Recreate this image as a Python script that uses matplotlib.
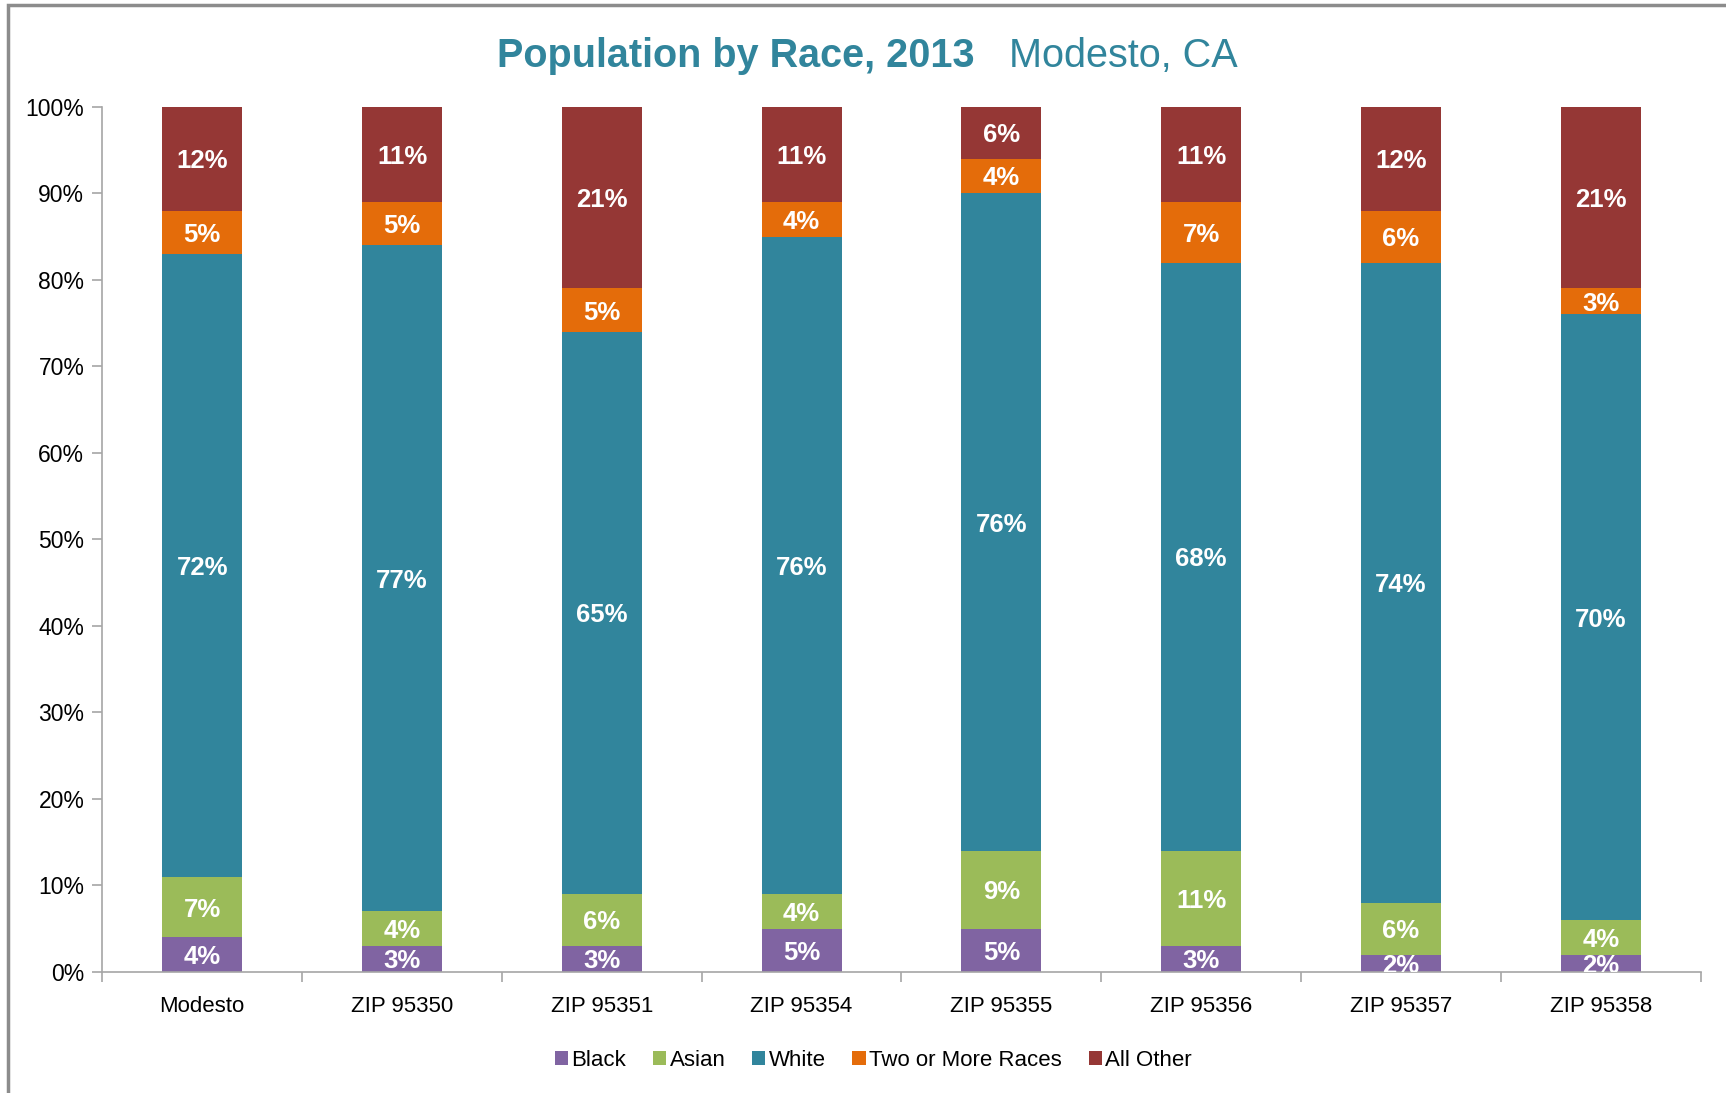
import matplotlib.pyplot as plt
import matplotlib.patches as mpatches
import numpy as np

# data (percent of population)
places = ['Modesto', 'ZIP 95350', 'ZIP 95351', 'ZIP 95354', 'ZIP 95355',
          'ZIP 95356', 'ZIP 95357', 'ZIP 95358']
black = [4, 3, 3, 5, 5, 3, 2, 2]
asian = [7, 4, 6, 4, 9, 11, 6, 4]
white = [72, 77, 65, 76, 76, 68, 74, 70]
two_or_more = [5, 5, 5, 4, 4, 7, 6, 3]
all_other = [12, 11, 21, 11, 6, 11, 12, 21]

series = [
    ('Black', black, '#8064A2'),
    ('Asian', asian, '#9BBB59'),
    ('White', white, '#31859C'),
    ('Two or More Races', two_or_more, '#E46C0A'),
    ('All Other', all_other, '#953735'),
]

plt.rcParams['font.family'] = ['Liberation Sans', 'DejaVu Sans']
title_color = '#31859C'
axis_gray = '#A6A6A6'

fig = plt.figure(figsize=(17.26, 10.93), dpi=100)
ax = fig.add_axes([0.0593, 0.1108, 0.926, 0.7915])

x = np.arange(len(places))
bottom = np.zeros(len(places))
handles = []
for name, vals, color in series:
    vals = np.array(vals, dtype=float)
    bars = ax.bar(x, vals / 100, width=0.40, bottom=bottom / 100, color=color,
                  label=name)
    for xi, b, v in zip(x, bottom, vals):
        ax.text(xi, (b + v / 2) / 100, f'{int(v)}%', ha='center', va='center_baseline',
                color='white', fontsize=18.5, fontweight='bold', clip_on=True)
    bottom += vals
    handles.append(bars)

ax.set_xlim(-0.5, len(places) - 0.5)
ax.set_ylim(0, 1)
ax.set_yticks(np.arange(0, 1.01, 0.1))
ax.set_yticklabels([f'{int(round(t * 100))}%' for t in np.arange(0, 1.01, 0.1)])
ax.set_xticks(x)
ax.set_xticklabels(places)
ax.set_xticks(np.arange(-0.5, len(places)), minor=True)
ax.tick_params(axis='x', which='major', length=0, pad=17, labelsize=16)
ax.tick_params(axis='x', which='minor', length=7, color=axis_gray, width=1.2)
ax.tick_params(axis='y', length=7, color=axis_gray, width=1.2, labelsize=16.5, pad=6)

for s in ['top', 'right']:
    ax.spines[s].set_visible(False)
for s in ['left', 'bottom']:
    ax.spines[s].set_color(axis_gray)
    ax.spines[s].set_linewidth(1.2)

# title in two parts
fig.text(974 / 1726, 1 - 56 / 1093, 'Population by Race, 2013', ha='right', va='center',
         fontsize=28.5, fontweight='bold', color=title_color)
fig.text(1009 / 1726, 1 - 56 / 1093, 'Modesto, CA', ha='left', va='center',
         fontsize=28.5, color=title_color)

fig.legend(handles=handles, loc='center', bbox_to_anchor=(0.506, 1 - 1060 / 1093),
           ncol=5, frameon=False, fontsize=16, handlelength=0.6, handleheight=0.6,
           handletextpad=0.15, columnspacing=1.2)

# chart frame (only top/left edges visible in the crop)
frame = mpatches.Rectangle((8 / 1726, -0.05), 1.2, 1.05 - 5 / 1093,
                           transform=fig.transFigure, fill=False,
                           edgecolor='#8C8C8C', linewidth=2.5)
fig.patches.append(frame)

fig.savefig('out.png', dpi=100)
